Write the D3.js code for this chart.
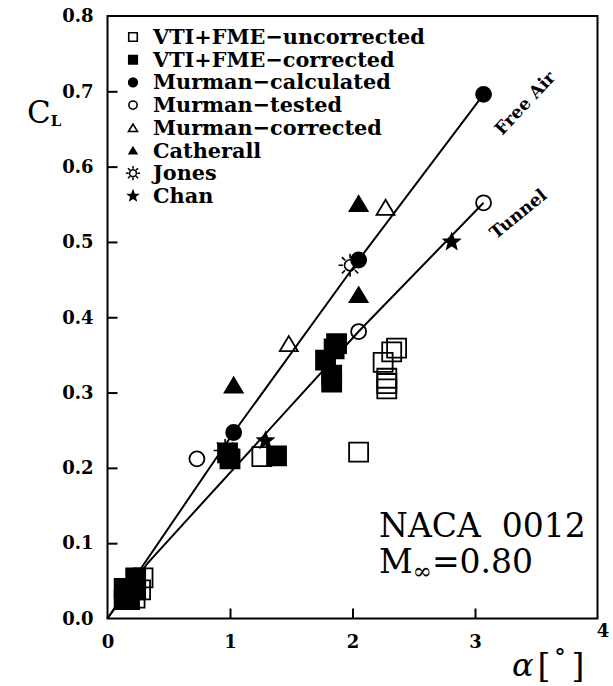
<!DOCTYPE html>
<html><head><meta charset="utf-8">
<script src="https://cdn.jsdelivr.net/npm/d3@7"></script>
<style>body{margin:0;background:#fff}svg{display:block}</style>
</head><body>
<svg id="c" width="613" height="686"></svg>
<script>
// ---- data ----
const xTicks = [0, 1, 2, 3, 4];
const yTicks = [0.0, 0.1, 0.2, 0.3, 0.4, 0.5, 0.6, 0.7, 0.8];

const vtiUncorrA  = [0.29, 0.27, 0.225, 1.26, 2.05, 2.25, 2.32, 2.36, 2.28, 2.28, 2.28];
const vtiUncorrCL = [0.054, 0.038, 0.027, 0.215, 0.221, 0.34, 0.354, 0.359, 0.319, 0.312, 0.305];

const vtiCorrA  = [0.23, 0.136, 0.136, 0.23, 0.18, 0.98, 1.0, 1.38, 1.87, 1.85, 1.78, 1.83, 1.83];
const vtiCorrCL = [0.054, 0.04, 0.025, 0.038, 0.025, 0.22, 0.212, 0.216, 0.365, 0.358, 0.343, 0.323, 0.314];

const murCalcA  = [1.03, 2.05, 3.07];
const murCalcCL = [0.247, 0.476, 0.696];

const murTestA  = [0.73, 2.05, 3.07];
const murTestCL = [0.212, 0.381, 0.552];

const murCorrA  = [1.48, 2.27];
const murCorrCL = [0.365, 0.546];

const cathA  = [1.03, 2.05, 2.05];
const cathCL = [0.31, 0.551, 0.43];

const jonesA  = [0.96, 1.98];
const jonesCL = [0.223, 0.469];

const chanA  = [1.29, 2.81];
const chanCL = [0.236, 0.50];

const freeAirA  = [0, 0.28, 1.03, 2.05, 3.07];
const freeAirCL = [0, 0.068, 0.247, 0.476, 0.696];
const tunnelA   = [0, 0.33, 2.05, 3.07];
const tunnelCL  = [0, 0.074, 0.381, 0.552];

const legendLabels = ["VTI+FME\u2212uncorrected", "VTI+FME\u2212corrected", "Murman\u2212calculated",
  "Murman\u2212tested", "Murman\u2212corrected", "Catherall", "Jones", "Chan"];
const legendSymbols = ["osq", "fsq", "fci", "oci", "otr", "ftr", "sun", "star"];

// ---- layout ----
const svg = d3.select("#c");
const x = d3.scaleLinear().domain([0, 4]).range([107.5, 597.5]);
const y = d3.scaleLinear().domain([0, 0.8]).range([618.5, 16]);
const SERIF = "'DejaVu Serif', serif";

function symPath(type, s) {
  if (type === "osq" || type === "fsq") { const h = 9.5 * s; return `M${-h},${-h}H${h}V${h}H${-h}Z`; }
  if (type === "oci" || type === "fci") { const r = 7.5 * s; return `M${r},0A${r},${r} 0 1,1 ${-r},0A${r},${r} 0 1,1 ${r},0Z`; }
  if (type === "otr" || type === "ftr") { const w = 9 * s, h = 7.5 * s; return `M0,${-h}L${w},${h}L${-w},${h}Z`; }
  if (type === "star") {
    const R = 8 * s, r = 3.4 * s; let p = "";
    for (let i = 0; i < 10; i++) {
      const a = -Math.PI / 2 + i * Math.PI / 5, rr = i % 2 ? r : R;
      p += (i ? "L" : "M") + (rr * Math.cos(a)).toFixed(2) + "," + (rr * Math.sin(a)).toFixed(2);
    }
    return p + "Z";
  }
  if (type === "sun") {
    const r = 5.5 * s, r1 = 7 * s, r2 = 11.5 * s;
    let p = `M${r},0A${r},${r} 0 1,1 ${-r},0A${r},${r} 0 1,1 ${r},0Z`;
    for (let i = 0; i < 8; i++) {
      const a = i * Math.PI / 4;
      p += `M${(r1 * Math.cos(a)).toFixed(2)},${(r1 * Math.sin(a)).toFixed(2)}L${(r2 * Math.cos(a)).toFixed(2)},${(r2 * Math.sin(a)).toFixed(2)}`;
    }
    return p;
  }
}
function drawSym(g, type, s, sw) {
  const filled = type[0] === "f" || type === "star";
  g.append("path").attr("d", symPath(type, s))
    .attr("fill", filled ? "#000" : "none")
    .attr("stroke", "#000").attr("stroke-width", sw || (type === "sun" ? 1.6 : 1.8))
    .attr("stroke-linejoin", "miter");
}

// ---- lines ----
const line = d3.line().x(d => x(d[0])).y(d => y(d[1]));
[[freeAirA, freeAirCL], [tunnelA, tunnelCL]].forEach(([a, c]) => {
  svg.append("path").datum(a.map((v, i) => [v, c[i]])).attr("d", line)
    .attr("fill", "none").attr("stroke", "#000").attr("stroke-width", 2);
});

// ---- markers ----
const series = [
  [vtiUncorrA, vtiUncorrCL, "osq"],
  [vtiCorrA, vtiCorrCL, "fsq"],
  [murTestA, murTestCL, "oci"],
  [murCalcA, murCalcCL, "fci"],
  [murCorrA, murCorrCL, "otr"],
  [cathA, cathCL, "ftr"],
  [jonesA, jonesCL, "sun"],
  [chanA, chanCL, "star"]
];
series.forEach(([a, c, t]) => {
  a.forEach((v, i) => {
    const g = svg.append("g").attr("transform", `translate(${x(v)},${y(c[i])})`);
    drawSym(g, t, 1);
  });
});

// ---- axes ----
const yAxis = d3.axisLeft(y).tickValues(yTicks).tickFormat(d3.format(".1f")).tickSize(-10).tickPadding(14);
const gy = svg.append("g").attr("transform", `translate(${x(0)},0)`).call(yAxis);
const xAxis = d3.axisBottom(x).tickValues(xTicks).tickFormat(d3.format("d")).tickSize(-10).tickPadding(17);
const gx = svg.append("g").attr("transform", `translate(0,${y(0)})`).call(xAxis);
[gx, gy].forEach(g => {
  g.select(".domain").remove();
  g.selectAll("line").attr("stroke", "#000").attr("stroke-width", 2);
  g.selectAll("text").attr("font-family", SERIF).attr("font-weight", "bold").attr("font-size", 18).attr("fill", "#000");
});
gy.selectAll(".tick").filter(d => d === 0 || d === 0.8).select("line").remove();
gx.selectAll(".tick").filter(d => d === 0 || d === 4).select("line").remove();
gx.selectAll(".tick").filter(d => d === 4).select("text").attr("dx", 5).attr("dy", "0.1em");

// frame
svg.append("rect").attr("x", x(0)).attr("y", y(0.8)).attr("width", x(4) - x(0)).attr("height", y(0) - y(0.8))
  .attr("fill", "none").attr("stroke", "#000").attr("stroke-width", 2);

// ---- axis titles ----
const cl = svg.append("text").attr("x", 27).attr("y", 123).attr("font-family", SERIF).attr("fill", "#000");
cl.append("tspan").attr("font-size", 31).text("C");
cl.append("tspan").attr("font-size", 15).attr("font-weight", "bold").attr("dy", 3).text("L");

const al = svg.append("text").attr("x", 512).attr("y", 676).attr("font-family", SERIF).attr("fill", "#000");
al.append("tspan").attr("font-size", 32).attr("font-style", "italic").text("\u03b1");
al.append("tspan").attr("font-size", 33).attr("dx", 4).attr("dy", 1).text("[");
al.append("tspan").attr("font-size", 22).attr("font-weight", "bold").attr("dx", 4).attr("dy", -12).text("\u00b0");
al.append("tspan").attr("font-size", 33).attr("dx", 6).attr("dy", 12).text("]");

// ---- legend ----
legendLabels.forEach((lab, i) => {
  const cy = 37 + i * 22.7;
  const g = svg.append("g").attr("transform", `translate(133,${cy})`);
  const s = { osq: 0.45, fsq: 0.45, fci: 0.58, oci: 0.55, otr: 0.5, ftr: 0.42, sun: 0.62, star: 0.62 }[legendSymbols[i]];
  drawSym(g, legendSymbols[i], s, legendSymbols[i] === "sun" ? 1.5 : 1.6);
  svg.append("text").attr("x", 153).attr("y", cy + 7).attr("font-family", SERIF)
    .attr("font-weight", "bold").attr("font-size", 20.8).attr("fill", "#000").text(lab);
});

// ---- annotations ----
svg.append("text").attr("transform", "translate(526,104) rotate(-47)").attr("text-anchor", "middle")
  .attr("dominant-baseline", "middle").attr("font-family", SERIF).attr("font-weight", "bold")
  .attr("font-size", 17.5).attr("fill", "#000").text("Free Air");
svg.append("text").attr("transform", "translate(519,215) rotate(-39)").attr("text-anchor", "middle")
  .attr("dominant-baseline", "middle").attr("font-family", SERIF).attr("font-weight", "bold")
  .attr("font-size", 17.5).attr("fill", "#000").text("Tunnel");

svg.append("text").attr("x", 379).attr("y", 537).attr("font-family", SERIF).attr("font-size", 33)
  .attr("fill", "#000").attr("xml:space", "preserve").text("NACA  0012");
const m = svg.append("text").attr("x", 379).attr("y", 573).attr("font-family", SERIF).attr("fill", "#000");
m.append("tspan").attr("font-size", 33).text("M");
m.append("tspan").attr("font-size", 23).attr("dy", 6).text("\u221e");
m.append("tspan").attr("font-size", 33).attr("dy", -6).text("=0.80");
</script>
</body></html>
